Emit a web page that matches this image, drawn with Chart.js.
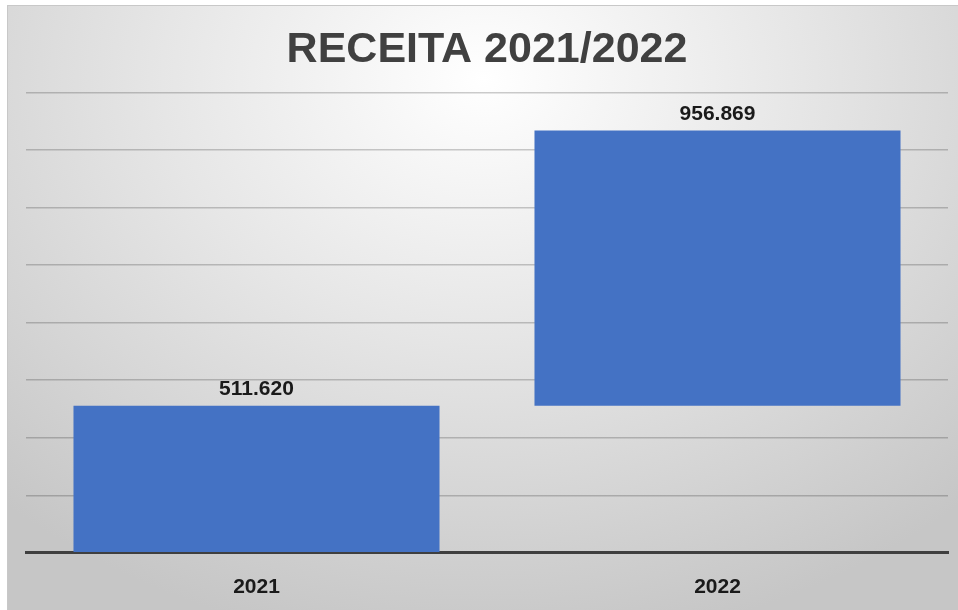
<!DOCTYPE html>
<html>
<head>
<meta charset="utf-8">
<script src="https://cdn.jsdelivr.net/npm/chart.js@4"></script>
<style>
  body { margin: 0; background: #fff; }
  #box {
    position: absolute; left: 7px; top: 5px; width: 951px; height: 605px; overflow: hidden;
    background: radial-gradient(ellipse 75% 95% at 50% 12%, #ffffff 0%, #e6e6e6 45%, #c6c6c6 100%);
    box-sizing: border-box; border-left: 1px solid #c8c8c8; border-top: 1px solid #c8c8c8;
  }
  #wrap { position: relative; width: 950px; height: 616px; }
</style>
</head>
<body>
<div id="box"><div id="wrap"><canvas id="myCanvas"></canvas></div></div>
<script>
let anos = ["2021", "2022"]
let receita = [511620, 956869]
let yMax = 1600000
let yStep = 200000

// waterfall: cada barra começa onde a anterior terminou
let barras = []
let soma = 0
for (let i = 0; i < receita.length; i++) {
    barras.push([soma, soma + receita[i]])
    soma += receita[i]
}

function fmt(v) {
    return v.toLocaleString("pt-BR")
}

let rotulos = {
    id: "rotulos",
    afterDatasetsDraw(chart) {
        let ctx = chart.ctx
        let meta = chart.getDatasetMeta(0)
        ctx.save()
        ctx.font = "bold 21px 'Liberation Sans', Arial, sans-serif"
        ctx.fillStyle = "#1a1a1a"
        ctx.textAlign = "center"
        ctx.textBaseline = "bottom"
        meta.data.forEach(function (bar, i) {
            ctx.fillText(fmt(receita[i]), bar.x, bar.y - 6)
        })
        ctx.restore()
    }
}

let ctx = document.querySelector("#myCanvas").getContext("2d")
let chart = new Chart(ctx, {
    type: "bar",
    data: {
        labels: anos,
        datasets: [{
            data: barras,
            backgroundColor: "#4472c4",
            borderSkipped: false,
            categoryPercentage: 1,
            barPercentage: 0.794
        }]
    },
    options: {
        responsive: true,
        maintainAspectRatio: false,
        animation: false,
        layout: { padding: { left: 18, right: 10, bottom: 0 } },
        plugins: {
            legend: { display: false },
            tooltip: { enabled: false },
            title: {
                display: true,
                text: "RECEITA 2021/2022",
                color: "#404040",
                font: { family: "'Liberation Sans', Arial, sans-serif", size: 43, weight: "bold" },
                padding: { top: 18, bottom: 17 }
            }
        },
        scales: {
            x: {
                grid: { display: false, drawTicks: false },
                border: { display: true, color: "#3f3f3f", width: 3 },
                ticks: {
                    color: "#1a1a1a",
                    padding: 22,
                    font: { family: "'Liberation Sans', Arial, sans-serif", size: 21, weight: "bold" }
                }
            },
            y: {
                min: 0,
                max: yMax,
                ticks: { display: false, stepSize: yStep },
                grid: { color: "rgba(0,0,0,0.2)", lineWidth: 1.5, drawTicks: false },
                border: { display: false }
            }
        }
    },
    plugins: [rotulos]
})
</script>
</body>
</html>
